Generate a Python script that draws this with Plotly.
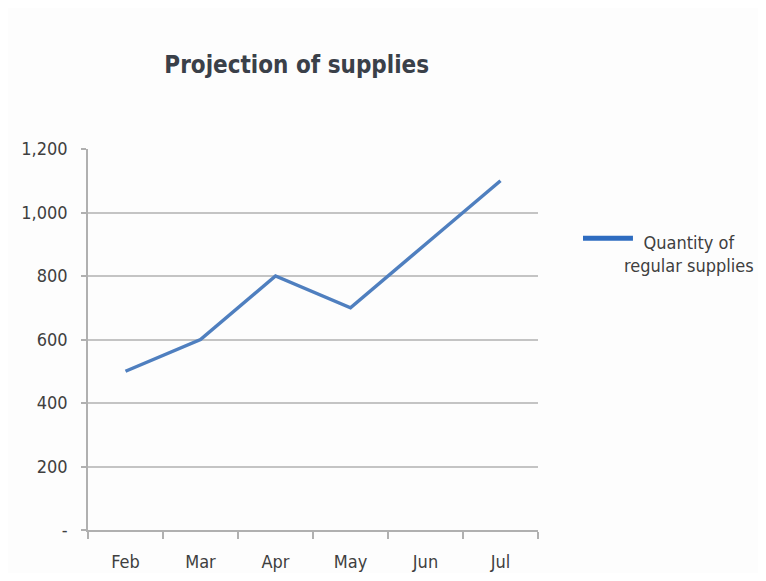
import plotly.graph_objects as go

months = ["Feb", "Mar", "Apr", "May", "Jun", "Jul"]
quantity = [500, 600, 800, 700, 900, 1100]
series_name = "Quantity of<br>regular supplies"
y_ticks = [0, 200, 400, 600, 800, 1000, 1200]
y_tick_labels = ["-", "200", "400", "600", "800", "1,000", "1,200"]

FONT = "DejaVu Sans Condensed, Open Sans"

fig = go.Figure()
fig.add_trace(go.Scatter(x=months, y=quantity, mode="lines",
                         line=dict(color="#4f7fbf", width=3.5),
                         name=series_name, showlegend=False))

tick_font = dict(family=FONT, size=18, color="#3f3f3f")
fig.update_layout(
    width=750, height=565,
    paper_bgcolor="#fdfdfd", plot_bgcolor="#fdfdfd",
    margin=dict(l=80, r=220, t=141, b=43),
    title=dict(text="<b>Projection of supplies</b>", x=0.385, xanchor="center",
               y=0.9, yanchor="middle",
               font=dict(family=FONT, size=24, color="#3a4049")),
    xaxis=dict(type="category", range=[-0.5, 5.5], tickson="boundaries",
               ticks="outside", ticklen=7, tickcolor="#b0b0b0", tickwidth=1.5,
               showline=True, linecolor="#b0b0b0", linewidth=2,
               showgrid=False, tickfont=tick_font, fixedrange=True,
               ticklabelstandoff=14, automargin=False),
    yaxis=dict(range=[0, 1200], tickvals=y_ticks, ticktext=y_tick_labels,
               ticks="outside", ticklen=5, tickcolor="#b0b0b0", tickwidth=1.5,
               showline=True, linecolor="#b0b0b0", linewidth=1.5,
               gridcolor="#c4c4c4", gridwidth=1.5, zeroline=False,
               tickfont=tick_font, ticklabelstandoff=10, automargin=False),
)

# legend drawn as shape + annotation to match the centred two-line label
fig.add_shape(type="line", xref="paper", yref="paper", x0=1.1, x1=1.211, y0=0.766, y1=0.766,
              line=dict(color="#2e6cc0", width=5))
fig.add_annotation(text=series_name, xref="paper", yref="paper", x=1.335, y=0.725,
                   xanchor="center", yanchor="middle", align="center", showarrow=False,
                   font=dict(family=FONT, size=18, color="#3f3f3f"))

fig.write_html("out.html")
